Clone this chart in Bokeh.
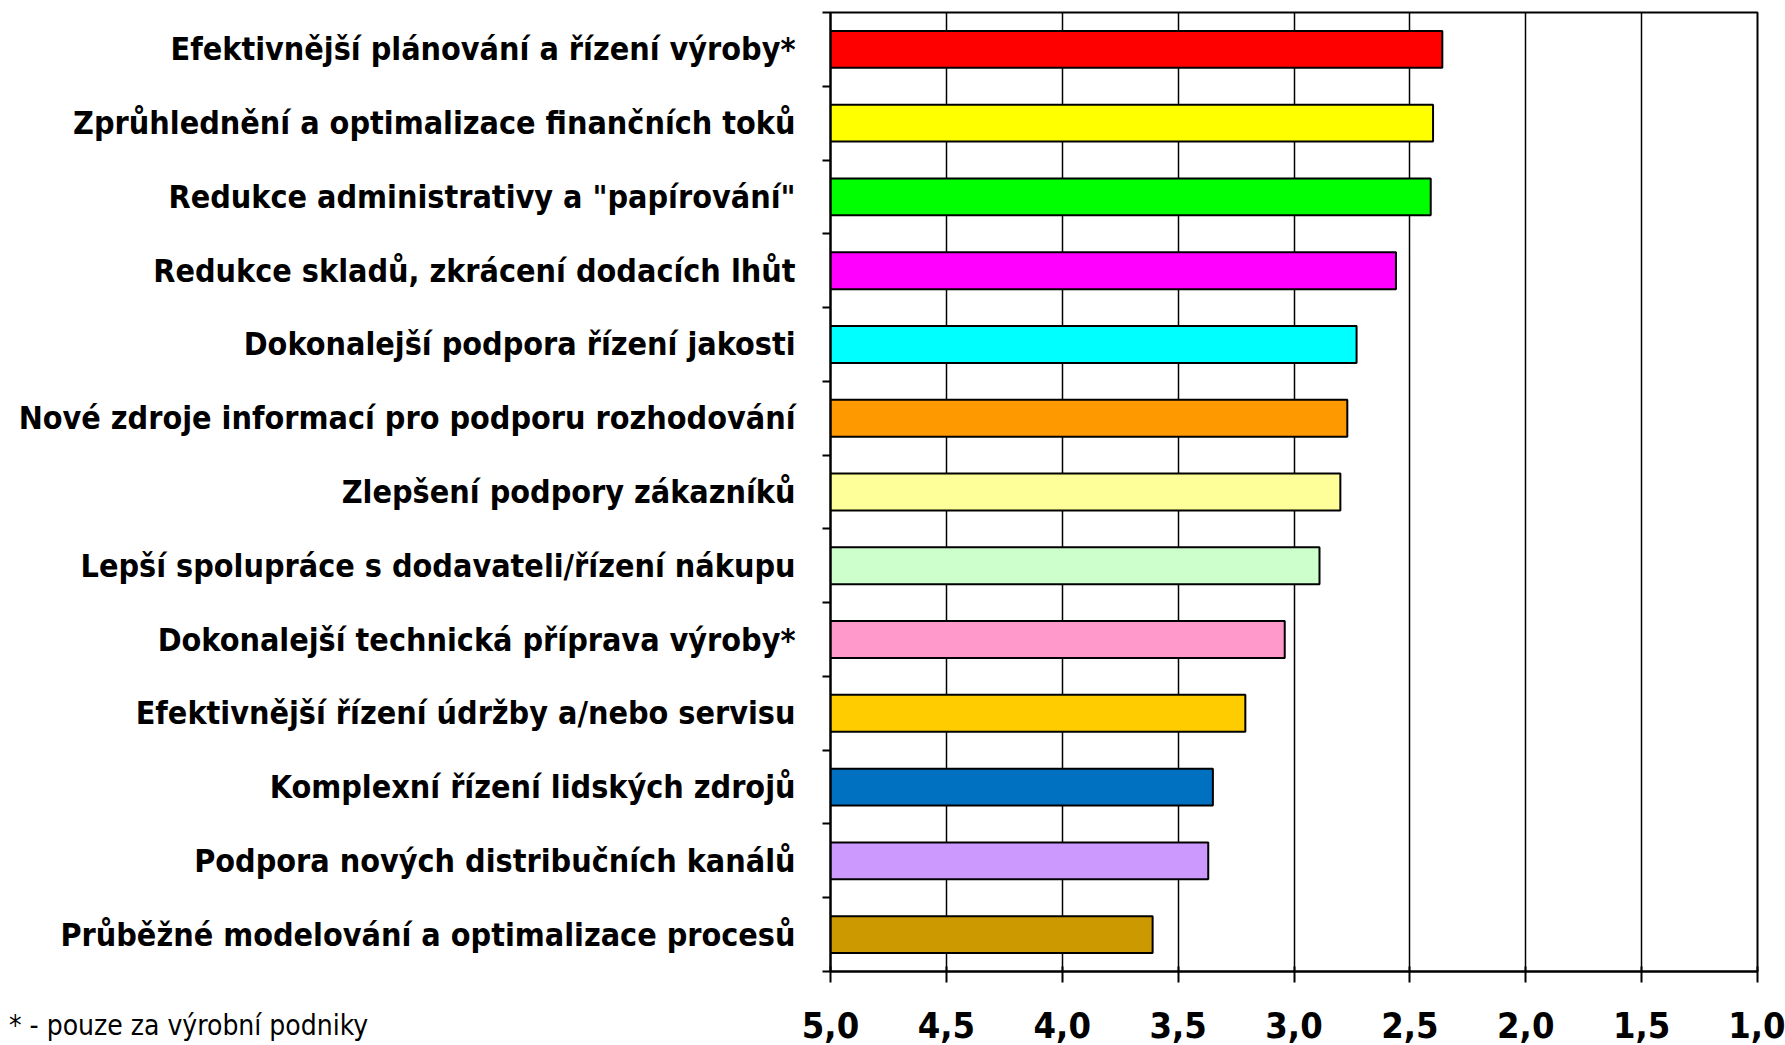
from bokeh.plotting import figure
from bokeh.models import Range1d, FixedTicker, Div, ColumnDataSource
from bokeh.embed import file_html
from bokeh.resources import INLINE

categories = [
    "Efektivnější plánování a řízení výroby*",
    "Zprůhlednění a optimalizace finančních toků",
    "Redukce administrativy a \"papírování\"",
    "Redukce skladů, zkrácení dodacích lhůt",
    "Dokonalejší podpora řízení jakosti",
    "Nové zdroje informací pro podporu rozhodování",
    "Zlepšení podpory zákazníků",
    "Lepší spolupráce s dodavateli/řízení nákupu",
    "Dokonalejší technická příprava výroby*",
    "Efektivnější řízení údržby a/nebo servisu",
    "Komplexní řízení lidských zdrojů",
    "Podpora nových distribučních kanálů",
    "Průběžné modelování a optimalizace procesů",
]
values = [2.36, 2.40, 2.41, 2.56, 2.73, 2.77, 2.80, 2.89, 3.04, 3.21, 3.35, 3.37, 3.61]
colors = ["#FF0000", "#FFFF00", "#00FF00", "#FF00FF", "#00FFFF", "#FF9900", "#FFFF99",
          "#CCFFCC", "#FF99CC", "#FFCC00", "#0070C0", "#CC99FF", "#CC9900"]
x_ticks = [5.0, 4.5, 4.0, 3.5, 3.0, 2.5, 2.0, 1.5, 1.0]
x_tick_labels = ["5,0", "4,5", "4,0", "3,5", "3,0", "2,5", "2,0", "1,5", "1,0"]
footnote = "* - pouze za výrobní podniky"

n = len(categories)
centers = [n - i - 0.5 for i in range(n)]
bounds = list(range(n + 1))
base = [5.0] * n

src = ColumnDataSource(dict(y=centers, left=base, right=values, color=colors))

NARROW = "DejaVu Sans Condensed"

p = figure(width=1785, height=1045, output_backend="svg", toolbar_location=None,
           x_range=Range1d(5.0, 1.0), y_range=Range1d(0, n),
           min_border_left=830, min_border_right=28, min_border_top=12, min_border_bottom=74)

p.hbar(y="y", left="left", right="right", height=0.5, fill_color="color",
       line_color="black", line_width=2, source=src)

# x axis
xa = p.xaxis[0]
xa.ticker = FixedTicker(ticks=x_ticks, minor_ticks=[])
xa.major_label_overrides = {(int(t) if float(t).is_integer() else t): l for t, l in zip(x_ticks, x_tick_labels)}
xa.major_tick_in = 5
xa.major_tick_out = 11
xa.major_tick_line_width = 2
xa.axis_line_width = 2
xa.major_label_standoff = 29
xa.major_label_text_font = NARROW
xa.major_label_text_font_style = "bold"
xa.major_label_text_font_size = "36px"
xa.major_label_text_color = "black"

# y axis
ya = p.yaxis[0]
ya.ticker = FixedTicker(ticks=centers, minor_ticks=bounds)
ya.major_label_overrides = {c: lab for c, lab in zip(centers, categories)}
ya.major_tick_in = 0
ya.major_tick_out = 0
ya.minor_tick_in = 0
ya.minor_tick_out = 8
ya.minor_tick_line_width = 2
ya.axis_line_width = 2
ya.major_label_standoff = 27
ya.major_label_text_font = NARROW
ya.major_label_text_font_style = "bold"
ya.major_label_text_font_size = "32px"
ya.major_label_text_color = "black"

p.xgrid.ticker = FixedTicker(ticks=x_ticks)
p.xgrid.grid_line_color = "black"
p.xgrid.grid_line_width = 1.5
p.ygrid.grid_line_color = None

p.outline_line_color = "black"
p.outline_line_width = 2

note = Div(text=footnote, styles={
    "position": "absolute", "left": "9px", "top": "1012px",
    "font-family": NARROW, "font-size": "28px", "color": "black",
    "white-space": "nowrap", "line-height": "28px", "margin": "0", "padding": "0",
})

open("out.html", "w").write(file_html([p, note], INLINE))
